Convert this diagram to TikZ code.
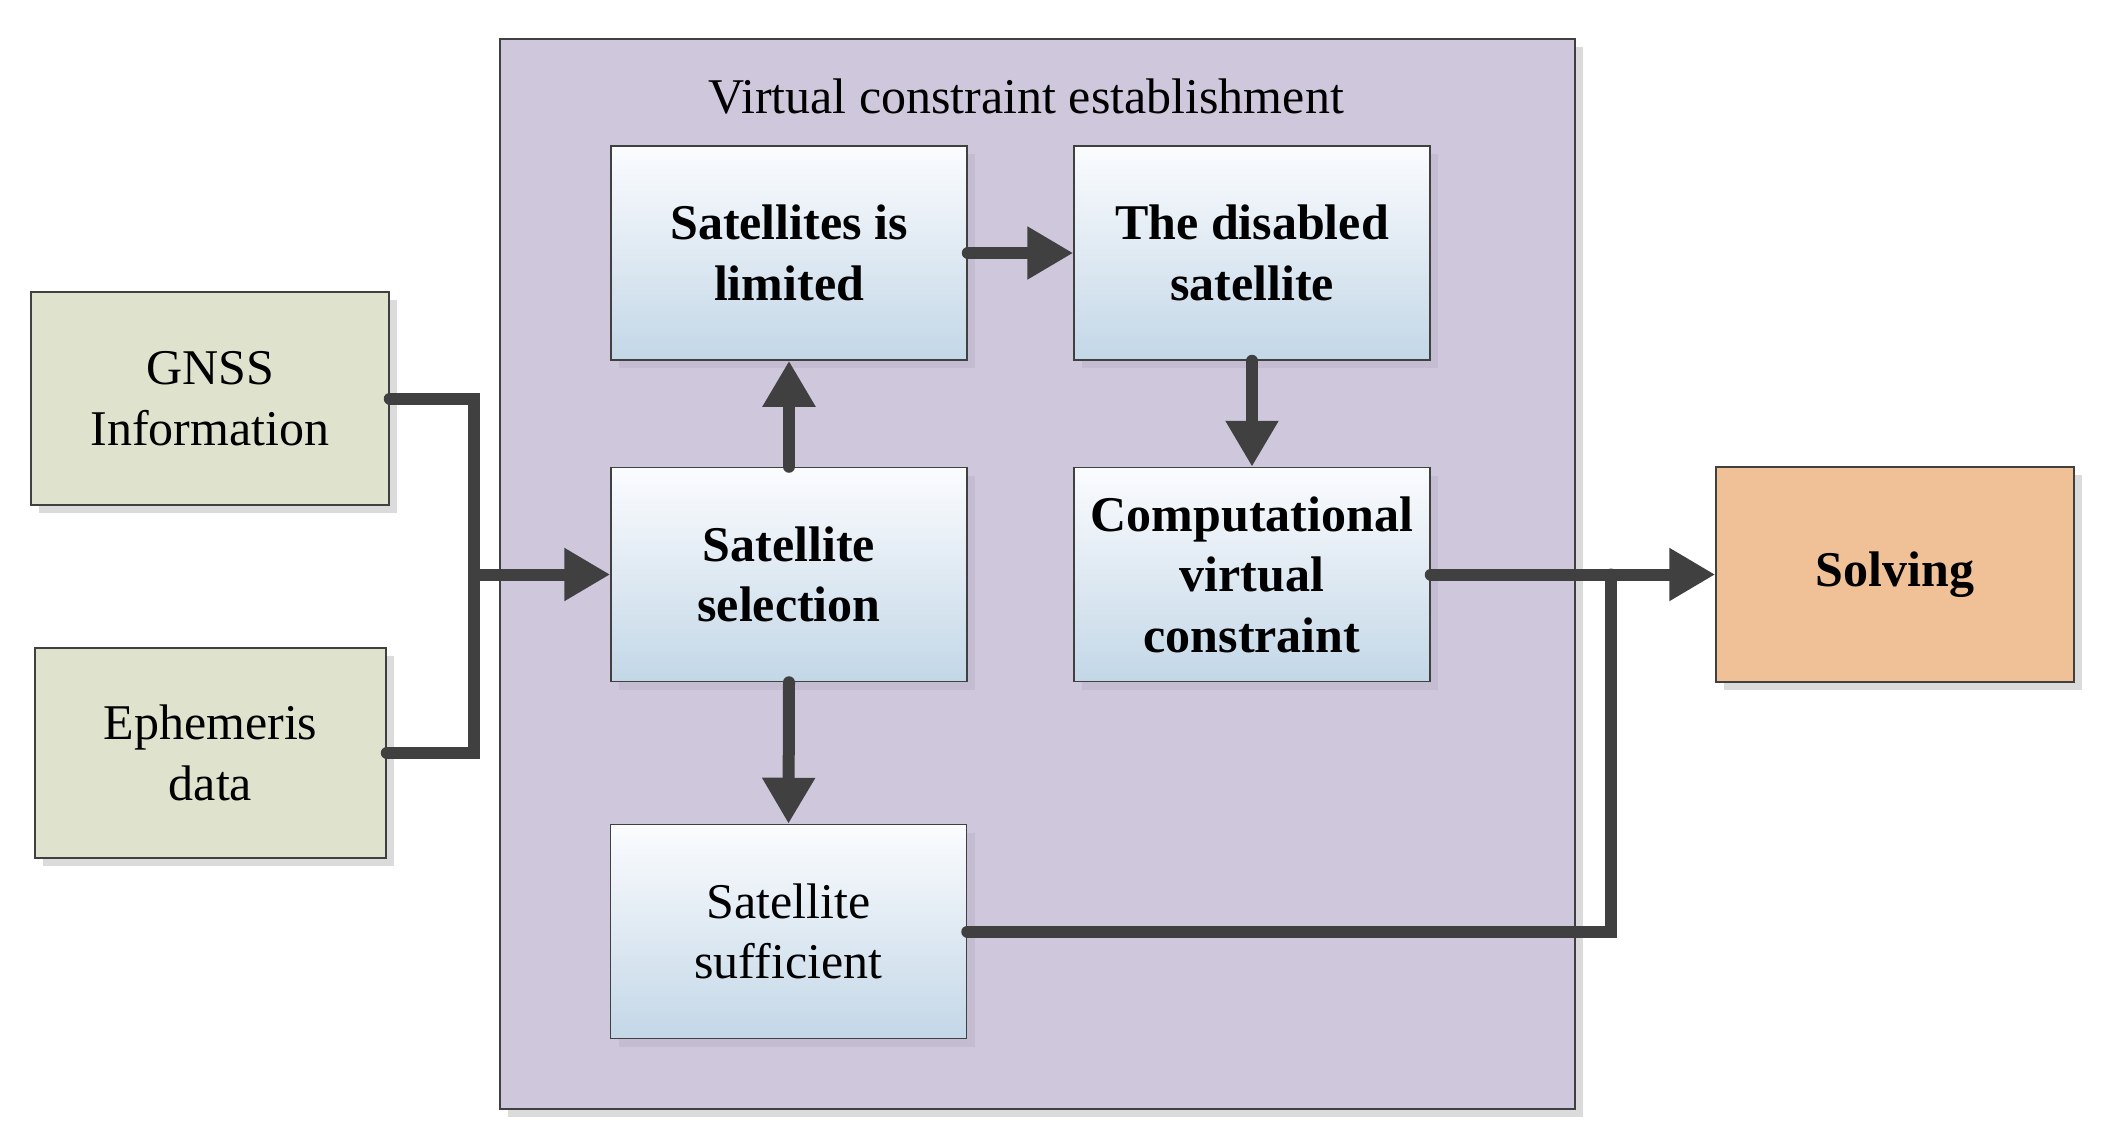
\documentclass[tikz,border=0pt]{standalone}
\usepackage{fontspec}
\setmainfont{Liberation Serif}
\usetikzlibrary{arrows.meta,shadows}
\definecolor{linec}{HTML}{404040}
\definecolor{purplebg}{HTML}{CFC7DC}
\definecolor{greenbg}{HTML}{DFE3CD}
\definecolor{orangebg}{HTML}{F0C097}
\definecolor{bluetop}{HTML}{FBFCFE}
\definecolor{bluebot}{HTML}{C3D7E7}
\tikzset{
  shade box/.style={drop shadow={shadow xshift=4pt, shadow yshift=-4pt, fill=black, opacity=0.14}},
  faint shade/.style={drop shadow={shadow xshift=4pt, shadow yshift=-4pt, fill=black, opacity=0.05}},
  basebox/.style={draw=linec, line width=0.75pt, inner sep=0pt, align=center,
    font=\fontsize{25}{30.2}\selectfont, shade box},
  inbox/.style={draw=linec, line width=0.75pt, inner sep=0pt, align=center,
    font=\fontsize{25}{30.2}\selectfont, faint shade,
    top color=bluetop, bottom color=bluebot,
    minimum width=178pt, minimum height=107pt},
  inputbox/.style={basebox, fill=greenbg},
  groupbox/.style={draw=linec, line width=0.75pt, fill=purplebg, inner sep=0pt, shade box},
  conn/.style={draw=linec, line width=6pt, line cap=round, line join=miter},
  arr/.style={conn, -{Triangle[length=23pt, width=25pt]}},
}
\begin{document}
\begin{tikzpicture}[x=0.5pt, y=-0.5pt]
\useasboundingbox (0,0) rectangle (2106,1141);
% container
\node[groupbox, minimum width=537.5pt, minimum height=535pt] (group) at (1037.5,574) {};
\node[font=\fontsize{25}{30}\selectfont, inner sep=0pt] (title) at (1026,97) {Virtual constraint establishment};
% input boxes
\node[inputbox, minimum width=179pt, minimum height=106.5pt] (gnss) at (210,398.5) {GNSS\\Information};
\node[inputbox, minimum width=175.5pt, minimum height=105pt] (eph) at (210.5,753) {Ephemeris\\data};
% inner boxes
\node[inbox, font=\fontsize{25}{30.2}\selectfont\bfseries] (lim) at (789,253) {Satellites is\\limited};
\node[inbox, font=\fontsize{25}{30.2}\selectfont\bfseries] (dis) at (1252,253) {The disabled\\satellite};
\node[inbox, font=\fontsize{25}{30.2}\selectfont\bfseries] (sel) at (789,574.5) {Satellite\\selection};
\node[inbox, font=\fontsize{25}{30.2}\selectfont\bfseries] (comp) at (1252,574.5) {Computational\\virtual\\constraint};
\node[inbox] (suff) at (788.5,931.5) {Satellite\\sufficient};
% output
\node[basebox, fill=orangebg, minimum width=179pt, minimum height=107.5pt,
  font=\fontsize{25}{30.2}\selectfont\bfseries] (solve) at (1895,574.5) {\raisebox{-2pt}{Solving}};
% junctions
\coordinate (j1) at (474,574.5);
\coordinate (j2) at (1611,574.5);
% connectors
\draw[conn] (gnss.east) -| (j1) |- (eph.east);
\draw[arr] (j1) -- (sel.west);
\draw[arr] (sel.north) -- (lim.south);
\draw[arr] (lim.east) -- (dis.west);
\draw[arr] (dis.south) -- (comp.north);
\draw[arr] (sel.south) -- (suff.north);
\draw[arr] (comp.east) -- (solve.west);
\draw[conn] (suff.east) -| (j2);
\end{tikzpicture}
\end{document}
